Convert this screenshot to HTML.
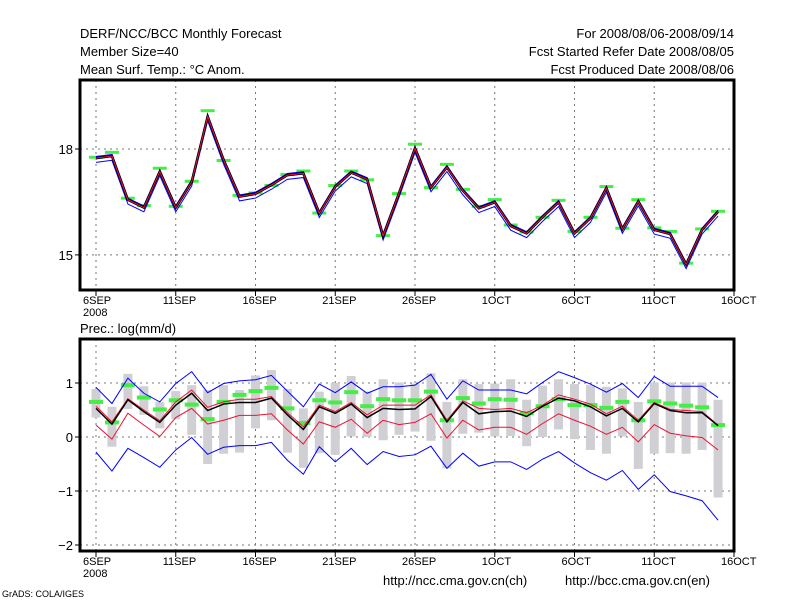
<!DOCTYPE html>
<html><head><meta charset="utf-8"><style>
body{margin:0;background:#fff;}
svg text{font-family:"Liberation Sans",sans-serif;fill:#000;}
</style></head><body>
<svg id="c" width="800" height="600" xmlns="http://www.w3.org/2000/svg">
<rect width="800" height="600" fill="#fff"/>
<g font-size="13">
<text x="80" y="38">DERF/NCC/BCC Monthly Forecast</text>
<text x="80" y="56">Member Size=40</text>
<text x="80" y="74">Mean Surf. Temp.: °C Anom.</text>
<text x="734" y="38" text-anchor="end">For 2008/08/06-2008/09/14</text>
<text x="734" y="56" text-anchor="end">Fcst Started Refer Date 2008/08/05</text>
<text x="734" y="74" text-anchor="end">Fcst Produced Date 2008/08/06</text>
<text x="80" y="333">Prec.: log(mm/d)</text>
<text x="383" y="585">http://ncc.cma.gov.cn(ch)</text>
<text x="565" y="585">http://bcc.cma.gov.cn(en)</text>
</g>
<text x="2" y="597" font-size="9">GrADS: COLA/IGES</text>
<g id="gtop"></g>
<g id="gbot"></g>
</svg>
<script>
// Top panel: temperature
const tMean=[17.74,17.80,16.56,16.34,17.36,16.34,17.07,18.92,17.69,16.65,16.73,16.98,17.26,17.31,16.18,16.93,17.33,17.14,15.54,16.75,18.02,16.91,17.48,16.82,16.32,16.49,15.82,15.61,16.07,16.49,15.61,16.04,16.89,15.73,16.51,15.71,15.59,14.73,15.71,16.22];
const tObs=[17.78,17.92,16.62,16.41,17.47,16.39,17.10,19.10,17.69,16.70,16.77,16.98,17.29,17.39,16.20,16.98,17.39,17.14,15.56,16.75,18.15,16.92,17.58,16.87,16.39,16.58,15.86,15.66,16.08,16.56,15.68,16.08,16.95,15.77,16.58,15.78,15.68,14.78,15.75,16.25];
const tSpreadHi=0.04, tSpreadLo=0.12;
const tTicks=[15,18];
const tTickLabels=["15","18"];
// Bottom panel: precipitation
const pMean=[0.53,0.24,0.69,0.47,0.27,0.59,0.81,0.49,0.61,0.64,0.64,0.72,0.41,0.14,0.56,0.44,0.61,0.36,0.53,0.51,0.52,0.75,0.28,0.64,0.43,0.47,0.48,0.38,0.57,0.72,0.67,0.56,0.39,0.53,0.28,0.62,0.49,0.45,0.45,0.21];
const pRedHi=[0.57,0.28,0.71,0.50,0.30,0.65,0.87,0.55,0.65,0.70,0.70,0.75,0.45,0.19,0.59,0.47,0.64,0.41,0.59,0.59,0.59,0.78,0.31,0.67,0.53,0.51,0.53,0.45,0.59,0.78,0.70,0.61,0.43,0.57,0.31,0.64,0.51,0.49,0.47,0.22];
const pRedLo=[0.22,-0.04,0.44,0.22,0.01,0.36,0.53,0.24,0.31,0.40,0.40,0.43,0.13,-0.13,0.28,0.18,0.33,0.07,0.31,0.23,0.27,0.43,-0.02,0.31,0.13,0.18,0.18,0.05,0.25,0.43,0.31,0.20,0.05,0.18,-0.09,0.23,0.07,0.02,-0.01,-0.24];
const pBlueHi=[0.92,0.62,1.09,0.81,0.65,0.99,1.21,0.82,0.99,1.04,1.06,1.14,0.85,0.56,0.98,0.82,1.02,0.81,0.93,0.93,0.96,1.16,0.70,1.04,0.87,0.87,0.87,0.80,1.01,1.21,1.10,0.98,0.83,0.99,0.73,1.12,0.94,0.94,0.94,0.73];
const pBlueLo=[-0.28,-0.63,-0.21,-0.38,-0.56,-0.24,-0.01,-0.32,-0.19,-0.16,-0.16,-0.10,-0.43,-0.69,-0.18,-0.46,-0.21,-0.51,-0.27,-0.36,-0.33,-0.17,-0.58,-0.30,-0.54,-0.46,-0.46,-0.60,-0.41,-0.27,-0.48,-0.66,-0.80,-0.62,-0.97,-0.70,-1.01,-1.09,-1.18,-1.54];
const pObs=[0.65,0.27,0.96,0.73,0.51,0.68,0.60,0.33,0.65,0.78,0.85,0.91,0.53,0.26,0.68,0.64,0.83,0.57,0.70,0.68,0.68,0.84,0.31,0.72,0.62,0.70,0.69,0.44,0.57,0.70,0.59,0.59,0.54,0.65,0.31,0.66,0.62,0.58,0.55,0.22];
const pRangeHi=[0.89,0.56,1.17,0.94,0.65,0.85,0.96,0.87,0.96,0.87,1.14,1.24,0.89,0.53,0.84,1.00,1.13,0.84,1.07,1.01,0.99,1.18,0.65,1.07,0.98,0.99,1.07,0.69,0.95,1.07,0.98,0.96,0.93,0.90,0.65,1.01,1.01,1.01,1.01,0.69];
const pRangeLo=[0.36,-0.18,0.52,0.41,0.16,0.33,0.04,-0.50,-0.31,-0.29,0.16,0.31,-0.29,-0.57,-0.30,-0.33,0.01,0.00,-0.06,0.04,0.10,-0.07,-0.58,0.06,0.08,0.01,0.02,-0.17,0.00,0.14,-0.04,-0.24,-0.31,0.01,-0.59,-0.31,-0.30,-0.31,-0.24,-1.12];
const pTicks=[1,0,-1,-2];
const pTickLabels=["1","0","\u22121","\u22122"];
const xTickDays=[0,5,10,15,20,25,30,35,40];
const xTickLabels=["6SEP","11SEP","16SEP","21SEP","26SEP","1OCT","6OCT","11OCT","16OCT"];

const NS="http://www.w3.org/2000/svg";
const X=d=>96+d*15.95;
const Yt=v=>149+(18-v)*35.3;
const Yp=v=>437-v*54;
function mk(tag,attrs,parent){const e=document.createElementNS(NS,tag);for(const k in attrs)e.setAttribute(k,attrs[k]);parent.appendChild(e);return e;}
function poly(vals,Y,color,w,parent,name){
  const e=mk('polyline',{points:vals.map((v,i)=>X(i)+','+Y(v)).join(' '),fill:'none',stroke:color,'stroke-width':w},parent);
  
  
}
function frame(g,y0,y1,ticks,Y,labels,name){
  ticks.forEach((t,k)=>{
    const l=mk('line',{x1:80,x2:734,y1:Y(t),y2:Y(t),stroke:'#777','stroke-dasharray':'2,4','stroke-width':1},g);
    
    
    mk('line',{x1:75,x2:80,y1:Y(t),y2:Y(t),stroke:'#000'},g);
    const tx=mk('text',{x:73,y:Y(t)+5,'text-anchor':'end','font-size':13},g);
    tx.textContent=labels[k];
    
    
  });
  xTickDays.forEach((d,k)=>{
    const l=mk('line',{x1:X(d),x2:X(d),y1:y0,y2:y1,stroke:'#777','stroke-dasharray':'2,4','stroke-width':1},g);
    
    
    mk('line',{x1:X(d),x2:X(d),y1:y1,y2:y1+6,stroke:'#000'},g);
    const tx=mk('text',{x:X(d)-13,y:y1+14,'font-size':11},g);
    tx.textContent=xTickLabels[k];
    
    
  });
  const yr=mk('text',{x:X(0)-13,y:y1+26,'font-size':11},g);
  yr.textContent='2008';
  
  
  const r=mk('rect',{x:80,y:y0,width:654,height:y1-y0,fill:'none',stroke:'#000','stroke-width':3},g);
  
  
}
const gTop=document.getElementById('gtop');
const gBot=document.getElementById('gbot');





// top panel
frame(gTop,80,290,tTicks,Yt,tTickLabels,'temperature-frame');
tObs.forEach((v,i)=>{
  const r=mk('rect',{x:X(i)-7,y:Yt(v)-1,width:14,height:3,fill:'#44ee44'},gTop);
  
  
});
poly(tMean.map(v=>v-tSpreadLo),Yt,'#0000ff',1,gTop,'temp-blue-lower');
poly(tMean.map(v=>v+tSpreadHi),Yt,'#0000ff',1.5,gTop,'temp-blue-upper');
poly(tMean,Yt,'#000',2.5,gTop,'temp-mean-line');
poly(tMean,Yt,'#ee1133',1,gTop,'temp-red-line');

// bottom panel
frame(gBot,339,551,pTicks,Yp,pTickLabels,'precip-frame');
pRangeHi.forEach((h,i)=>{
  const r=mk('rect',{x:X(i)-4.5,y:Yp(h),width:9,height:Yp(pRangeLo[i])-Yp(h),fill:'#d0d0d4'},gBot);
  
  
});
pObs.forEach((v,i)=>{
  const r=mk('rect',{x:X(i)-7,y:Yp(v)-2,width:14,height:4,fill:'#44ee44'},gBot);
  
  
});
poly(pBlueHi,Yp,'#0000ff',1,gBot,'precip-blue-upper');
poly(pBlueLo,Yp,'#0000ff',1,gBot,'precip-blue-lower');
poly(pRedLo,Yp,'#ee1133',1,gBot,'precip-red-lower');
poly(pRedHi,Yp,'#ee1133',1,gBot,'precip-red-upper');
poly(pMean,Yp,'#000',1.5,gBot,'precip-mean-line');
</script>
</body></html>
